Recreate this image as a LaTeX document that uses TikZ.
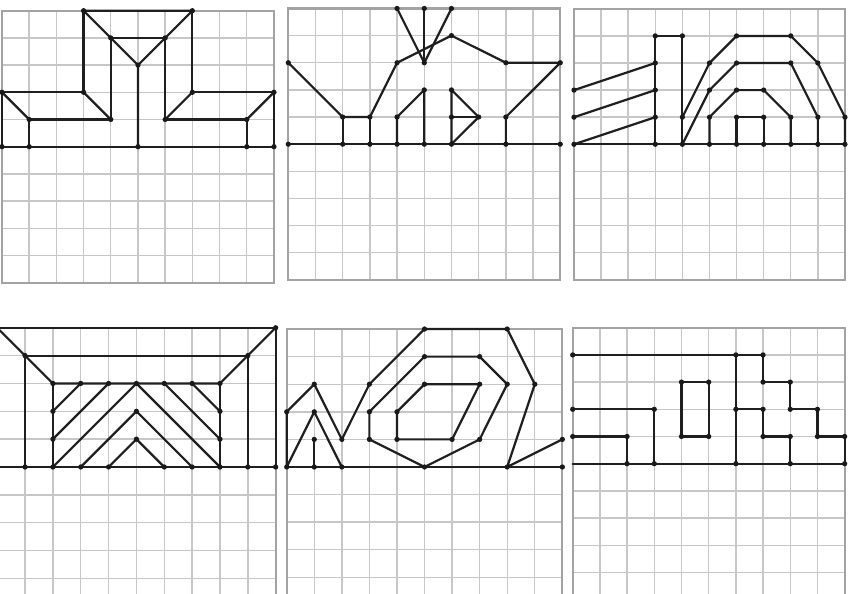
\documentclass[tikz,border=0pt]{standalone}

\begin{document}
\begin{tikzpicture}[
  x=0.02cm, y=0.02cm,
  panelA/.style={shift={(2,447.3)}, x=0.544cm, y=0.544cm},
  panelB/.style={shift={(288.3,449.8)}, x=0.544cm, y=0.543cm},
  panelC/.style={shift={(574,449.7)}, x=0.542cm, y=0.542cm},
  panelD/.style={shift={(-2.8,127)}, x=0.557cm, y=0.557cm},
  panelE/.style={shift={(286.7,127)}, x=0.5514cm, y=0.552cm},
  panelF/.style={shift={(572.7,130.3)}, x=0.544cm, y=0.544cm},
  gridline/.style={draw=black!22, line width=0.8pt},
  border/.style={draw=black!36, line width=1.3pt},
  fig/.style={draw=black!88, line width=1.25pt, line cap=round, line join=round},
  dot/.style={fill=black!90}
]

\clip (0,0) rectangle (849,594);

% squared paper
\foreach \panel in {panelA,panelB,panelC,panelD,panelE,panelF} {
  \begin{scope}[\panel]
    \foreach \i in {1,...,9} {
      \draw[gridline] (\i,-5) -- (\i,5);
      \draw[gridline] (0,\i-5) -- (10,\i-5);
    }
    \draw[gridline] (0,0) -- (10,0);
    \draw[border] (0,-5) rectangle (10,5);
  \end{scope}
}

% first row
\begin{scope}[panelA]
  \draw[fig] (0,0) -- (10,0);
  \draw[fig] (5,0) -- (5,3) -- (3,5) -- (7,5) -- (5,3);
  \draw[fig] (4,4) -- (6,4);
  \draw[fig] (0,0) -- (0,2) -- (3,2) -- (3,5);
  \draw[fig] (10,0) -- (10,2) -- (7,2) -- (7,5);
  \draw[fig] (1,0) -- (1,1) -- (4,1) -- (4,4);
  \draw[fig] (9,0) -- (9,1) -- (6,1) -- (6,4);
  \draw[fig] (0,2) -- (1,1);
  \draw[fig] (3,2) -- (4,1);
  \draw[fig] (10,2) -- (9,1);
  \draw[fig] (7,2) -- (6,1);
  \foreach \p in {(3,5),(7,5),(4,4),(6,4),(5,3),(0,2),(3,2),(7,2),(10,2),(1,1),(4,1),(6,1),(9,1),(0,0),(1,0),(5,0),(9,0),(10,0)}
    \fill[dot] \p circle[radius=1.5pt];
\end{scope}

\begin{scope}[panelB]
  \draw[fig] (0,0) -- (10,0);
  \draw[fig] (4,5) -- (5,3) -- (6,5);
  \draw[fig] (5,5) -- (5,3);
  \draw[fig] (0,3) -- (2,1) -- (3,1) -- (4,3) -- (6,4) -- (8,3) -- (10,3) -- (8,1) -- (8,0);
  \draw[fig] (2,1) -- (2,0);
  \draw[fig] (3,1) -- (3,0);
  \draw[fig] (4,0) -- (4,1) -- (5,2) -- (5,0);
  \draw[fig] (6,0) -- (6,2) -- (7,1) -- (6,0);
  \draw[fig] (6,1) -- (7,1);
  \foreach \p in {(4,5),(5,5),(6,5),(6,4),(0,3),(4,3),(5,3),(8,3),(10,3),(5,2),(6,2),(2,1),(3,1),(4,1),(6,1),(7,1),(8,1),(0,0),(2,0),(3,0),(4,0),(5,0),(6,0),(8,0),(10,0)}
    \fill[dot] \p circle[radius=1.5pt];
\end{scope}

\begin{scope}[panelC]
  \draw[fig] (0,0) -- (10,0);
  \draw[fig] (0,2) -- (3,3);
  \draw[fig] (0,1) -- (3,2);
  \draw[fig] (0,0) -- (3,1);
  \draw[fig] (3,0) -- (3,4) -- (4,4) -- (4,0);
  \draw[fig] (4,1) -- (5,3) -- (6,4) -- (8,4) -- (9,3) -- (10,1) -- (10,0);
  \draw[fig] (4,0) -- (5,2) -- (6,3) -- (8,3) -- (9,1) -- (9,0);
  \draw[fig] (5,0) -- (5,1) -- (6,2) -- (7,2) -- (8,1) -- (8,0);
  \draw[fig] (6,0) -- (6,1) -- (7,1) -- (7,0);
  \foreach \p in {(3,4),(4,4),(6,4),(8,4),(3,3),(5,3),(6,3),(8,3),(9,3),(0,2),(3,2),(5,2),(6,2),(7,2),(0,1),(3,1),(4,1),(5,1),(6,1),(7,1),(8,1),(9,1),(10,1),(0,0),(3,0),(4,0),(5,0),(6,0),(7,0),(8,0),(9,0),(10,0)}
    \fill[dot] \p circle[radius=1.5pt];
\end{scope}

% second row
\begin{scope}[panelD]
  \draw[fig] (0,0) -- (10,0);
  \draw[fig] (0,5) -- (10,5) -- (10,0);
  \draw[fig] (0,5) -- (2,3) -- (8,3) -- (10,5);
  \draw[fig] (1,0) -- (1,4) -- (9,4) -- (9,0);
  \draw[fig] (2,3) -- (2,0);
  \draw[fig] (8,3) -- (8,0);
  \draw[fig] (2,2) -- (3,3);
  \draw[fig] (2,1) -- (4,3);
  \draw[fig] (2,0) -- (5,3) -- (8,0);
  \draw[fig] (3,0) -- (5,2) -- (7,0);
  \draw[fig] (4,0) -- (5,1) -- (6,0);
  \draw[fig] (6,3) -- (8,1);
  \draw[fig] (7,3) -- (8,2);
  \foreach \p in {(10,5),(1,4),(9,4),(2,3),(3,3),(4,3),(5,3),(6,3),(7,3),(8,3),(2,2),(5,2),(8,2),(2,1),(5,1),(8,1),(1,0),(2,0),(3,0),(4,0),(6,0),(7,0),(8,0),(9,0),(10,0)}
    \fill[dot] \p circle[radius=1.5pt];
\end{scope}

\begin{scope}[panelE]
  \draw[fig] (0,0) -- (10,0);
  \draw[fig] (0,0) -- (0,2) -- (1,3) -- (2,1) -- (3,3) -- (5,5) -- (8,5) -- (9,3) -- (8,0) -- (10,1);
  \draw[fig] (0,0) -- (1,2) -- (2,0);
  \draw[fig] (1,1) -- (1,0);
  \draw[fig] (3,2) -- (5,4) -- (7,4) -- (8,3) -- (7,1) -- (5,0) -- (3,1) -- cycle;
  \draw[fig] (4,2) -- (5,3) -- (7,3) -- (6,1) -- (4,1) -- cycle;
  \foreach \p in {(5,5),(8,5),(5,4),(7,4),(1,3),(3,3),(5,3),(7,3),(8,3),(9,3),(0,2),(1,2),(3,2),(4,2),(1,1),(2,1),(3,1),(4,1),(6,1),(7,1),(10,1),(0,0),(1,0),(2,0),(5,0),(8,0),(10,0)}
    \fill[dot] \p circle[radius=1.5pt];
\end{scope}

\begin{scope}[panelF]
  \draw[fig] (0,0) -- (10,0);
  \draw[fig] (0,4) -- (7,4) -- (7,3) -- (8,3) -- (8,2) -- (9,2) -- (9,1) -- (10,1) -- (10,0);
  \draw[fig] (6,4) -- (6,0);
  \draw[fig] (6,2) -- (7,2) -- (7,1) -- (8,1) -- (8,0);
  \draw[fig] (0,2) -- (3,2) -- (3,0);
  \draw[fig] (0,1) -- (2,1) -- (2,0);
  \draw[fig] (4,1) -- (4,3) -- (5,3) -- (5,1) -- cycle;
  \foreach \p in {(0,4),(6,4),(7,4),(4,3),(5,3),(7,3),(8,3),(0,2),(3,2),(6,2),(7,2),(8,2),(9,2),(0,1),(2,1),(4,1),(5,1),(7,1),(8,1),(9,1),(10,1),(2,0),(3,0),(6,0),(8,0),(10,0)}
    \fill[dot] \p circle[radius=1.5pt];
\end{scope}

\end{tikzpicture}
\end{document}
